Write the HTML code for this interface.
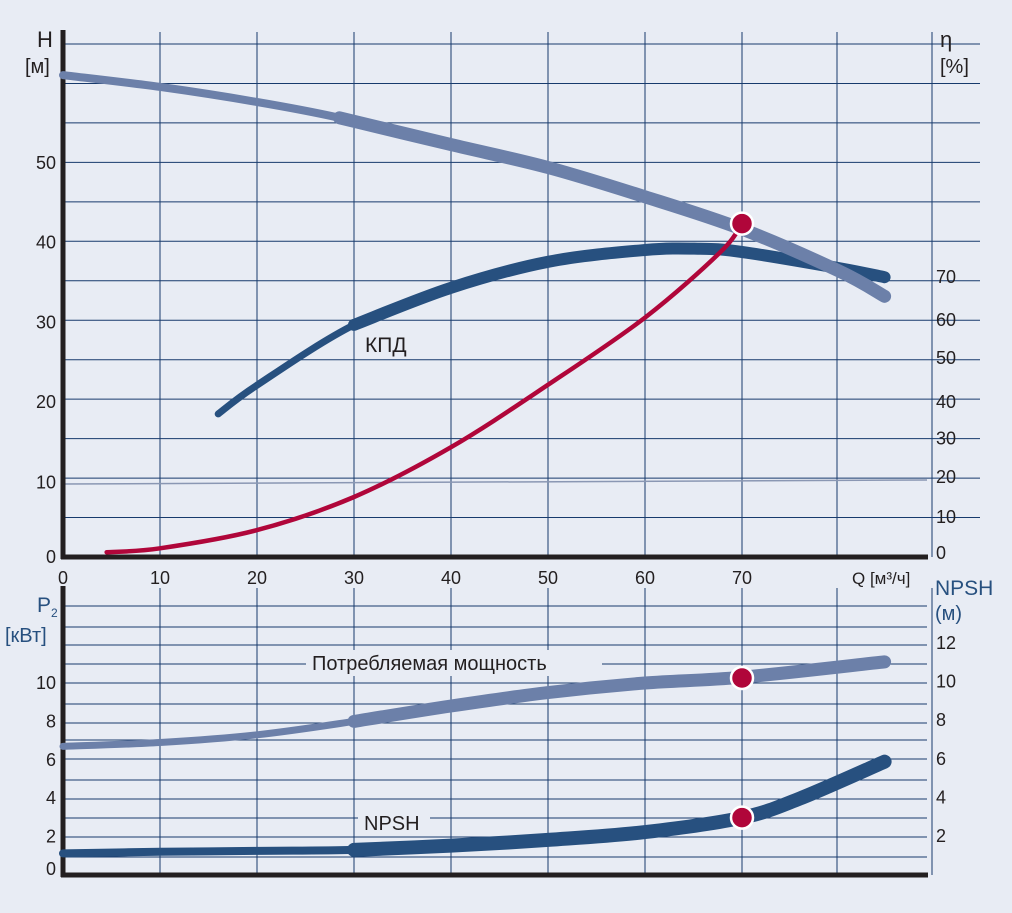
<!DOCTYPE html>
<html><head><meta charset="utf-8"><style>
html,body{margin:0;padding:0;background:#e8ecf4;}
svg{display:block;font-family:"Liberation Sans",sans-serif;}
</style></head><body>
<svg id="c" width="1012" height="913" viewBox="0 0 1012 913">
<rect x="0" y="0" width="1012" height="913" fill="#e8ecf4"/>
<g id="grid"></g>
<g id="series"></g>
<g id="labels"></g>
</svg>
<script>
// ---- data ----
const qTicks = [0,10,20,30,40,50,60,70];
const hTickLabels = ["0","10","20","30","40","50"];
const hTickPos = [0,9.4,19.6,29.7,39.8,49.9];
const etaTickLabels = ["0","10","20","30","40","50","60","70"];
const etaTickPos = [0,9.2,19.3,29,38.3,49.5,59.2,70];
const pTickLabels = ["0","2","4","6","8","10"];
const pTickVals = [0.3,2,4,6,8,10];
const npshTickLabels = ["2","4","6","8","10","12"];
const npshTickVals = [2,4,6,8,10,12];
// head curve H(Q)
const headQ = [0,10,20,28.5,40,50,60,70,80,84.7];
const headH = [61,59.5,57.6,55.6,52.2,49.3,45.6,41.5,36.2,33];
// efficiency curve
const effQ = [16,20,30,40,50,60,65.7,70,80,84.7];
const effEta = [35.3,42.6,57.9,67.3,73.9,76.9,77.2,76.4,72.3,70];
// system curve (red)
const sysQ = [4.5,10,20,30,40,50,60,67.7,70];
const sysH = [0.6,1.1,3.4,7.6,13.9,21.8,30.3,38.5,42.2];
const dutyQ = 70, dutyH = 42.2, dutyP = 10.26, dutyNpsh = 2.95;
// power
const powQ = [0,10,20,30,40,50,60,70,84.7];
const powP = [6.7,6.9,7.3,8.0,8.8,9.5,10.0,10.3,11.1];
// npsh
const npQ = [0,10,20,30,40,50,60,70,76,84.7];
const npV = [1.1,1.18,1.23,1.28,1.5,1.8,2.2,2.95,3.95,5.85];

// ---- axes ----
const X = q => 63 + q*9.7;
const YH = h => 557 - h*7.9;
const YE = e => 553 - e*3.94;
const YP = p => 875 - p*19.2;
const YN = n => 874.6 - n*19.3;
const NS = "http://www.w3.org/2000/svg";
function mk(tag, attrs, parent){const e=document.createElementNS(NS,tag);for(const k in attrs)e.setAttribute(k,attrs[k]);parent.appendChild(e);return e;}
const grid=document.getElementById('grid'), ser=document.getElementById('series'), lab=document.getElementById('labels');
const gc="#173a6c";
// top grid
for(let i=0;i<=13;i++){const y=44+i*(513/13);if(i===13)break;
 const l=mk('line',{x1:63,x2:980,y1:y,y2:y,stroke:gc,'stroke-width':1},grid);
 }
for(let i=1;i<=9;i++){const x=X(i*10)-(i>7?(i-7)*2:0);
 const l=mk('line',{x1:x,x2:x,y1:32,y2:557,stroke:gc,'stroke-width':1},grid);
 
 const l2=mk('line',{x1:x,x2:x,y1:588,y2:875,stroke:gc,'stroke-width':1},grid);
 }
let thin=mk('line',{x1:63,x2:927,y1:484,y2:480,stroke:"#8a97b3",'stroke-width':1.5},grid);

// bottom grid
const bY=[606,627,645,664,683,704,723,740,759,780,799,818,837,857];
bY.forEach(y=>{const l=mk('line',{x1:63,x2:927,y1:y,y2:y,stroke:gc,'stroke-width':1},grid);
 });
// axes
[[63,30,63,559,'top-y-axis'],[61,557,928,557,'top-x-axis'],[63,586,63,877,'bottom-y-axis'],[61,875,928,875,'bottom-x-axis']].forEach(a=>{
 const l=mk('line',{x1:a[0],y1:a[1],x2:a[2],y2:a[3],stroke:"#231f20",'stroke-width':5},grid);
 });

function path(qs,vs,xf,yf){return qs.map((q,i)=>(i?'L':'M')+xf(q).toFixed(1)+' '+yf(vs[i]).toFixed(1)).join(' ');}
function smooth(qs,vs,xf,yf){const p=qs.map((q,i)=>[xf(q),yf(vs[i])]);let d='M'+p[0][0]+' '+p[0][1];
 for(let i=0;i<p.length-1;i++){const p0=p[i-1]||p[i],p1=p[i],p2=p[i+1],p3=p[i+2]||p2;
  const c1=[p1[0]+(p2[0]-p0[0])/6,p1[1]+(p2[1]-p0[1])/6],c2=[p2[0]-(p3[0]-p1[0])/6,p2[1]-(p3[1]-p1[1])/6];
  d+=` C${c1[0].toFixed(1)} ${c1[1].toFixed(1)} ${c2[0].toFixed(1)} ${c2[1].toFixed(1)} ${p2[0].toFixed(1)} ${p2[1].toFixed(1)}`;}return d;}
function split(qs,vs,q0){const a=[[],[]],b=[[],[]];qs.forEach((q,i)=>{if(q<=q0){a[0].push(q);a[1].push(vs[i]);}if(q>=q0-10&&q>=qs[0]){}});
 qs.forEach((q,i)=>{if(q>=q0-0.01||(i<qs.length-1&&qs[i+1]>q0&&q<q0)){b[0].push(q);b[1].push(vs[i]);}});return [a,b];}
function curve(qs,vs,yf,color,w1,w2,qSplit,name){
 const s=split(qs,vs,qSplit);
 const full=mk('path',{d:smooth(qs,vs,X,yf),fill:'none',stroke:color,'stroke-width':w1,'stroke-linecap':'round'},ser);
 
 const idx=qs.findIndex(q=>q>=qSplit);
 const tq=qs.slice(idx),tv=vs.slice(idx);
 const th=mk('path',{d:smooth(tq,tv,X,yf),fill:'none',stroke:color,'stroke-width':w2,'stroke-linecap':'round'},ser);
 }
curve(effQ,effEta,YE,"#27507f",7,12,30,'efficiency');
curve(headQ,headH,YH,"#6c80a9",8,13,28.5,'head');
let sp=mk('path',{d:smooth(sysQ,sysH,X,YH),fill:'none',stroke:"#b0063a",'stroke-width':4.5,'stroke-linecap':'round'},ser);

curve(powQ,powP,YP,"#6c80a9",7,13,30,'power');
curve(npQ,npV,YN,"#27507f",8,14,30,'npsh');
function dot(x,y,name){const c=mk('circle',{cx:x,cy:y,r:11,fill:"#b0063a",stroke:"#fff",'stroke-width':2.5},ser);
 }
dot(X(dutyQ),YH(dutyH),'duty-point-head');
dot(X(dutyQ),YP(dutyP),'duty-point-power');
dot(X(dutyQ),YN(dutyNpsh),'duty-point-npsh');

function txt(x,y,s,opt,name){const t=mk('text',Object.assign({x:x,y:y,'font-size':18,fill:'#231f20'},opt||{}),lab);t.textContent=s;
 return t;}
qTicks.forEach(q=>txt(X(q),584,String(q),{'text-anchor':'middle'},'x-tick-label'));
hTickLabels.forEach((s,i)=>txt(56,YH(hTickPos[i])+6,s,{'text-anchor':'end'},'h-tick-label'));
etaTickLabels.forEach((s,i)=>txt(936,YE(etaTickPos[i])+6,s,{},'eta-tick-label'));
pTickLabels.forEach((s,i)=>txt(56,YP(pTickVals[i])+6,s,{'text-anchor':'end'},'p2-tick-label'));
npshTickLabels.forEach((s,i)=>txt(936,YN(npshTickVals[i])+6,s,{},'npsh-tick-label'));
txt(37,47,'H',{'font-size':22},'h-axis-title');
txt(25,73,'[м]',{'font-size':20},'h-axis-unit');
txt(940,47,'η',{'font-size':22},'eta-axis-title');
txt(940,73,'[%]',{'font-size':20},'eta-axis-unit');
txt(852,584,'Q  [м³/ч]',{'font-size':17},'x-axis-title');
txt(935,595,'NPSH',{'font-size':21,fill:'#27507f'},'npsh-axis-title');
txt(935,620,'(м)',{'font-size':20,fill:'#27507f'},'npsh-axis-unit');
txt(37,612,'P',{'font-size':21,fill:'#27507f'},'p2-axis-title');
txt(51,617,'2',{'font-size':12,fill:'#27507f'},'p2-subscript');
txt(5,642,'[кВт]',{'font-size':20,fill:'#27507f'},'p2-axis-unit');
txt(365,352,'КПД',{'font-size':21},'efficiency-label');
let r1=mk('rect',{x:306,y:650,width:296,height:26,fill:'#e8ecf4'},lab);
txt(312,670,'Потребляемая мощность',{'font-size':20},'power-label');
let r2=mk('rect',{x:358,y:808,width:72,height:26,fill:'#e8ecf4'},lab);
txt(364,830,'NPSH',{'font-size':20},'npsh-label');
</script>
</body></html>
